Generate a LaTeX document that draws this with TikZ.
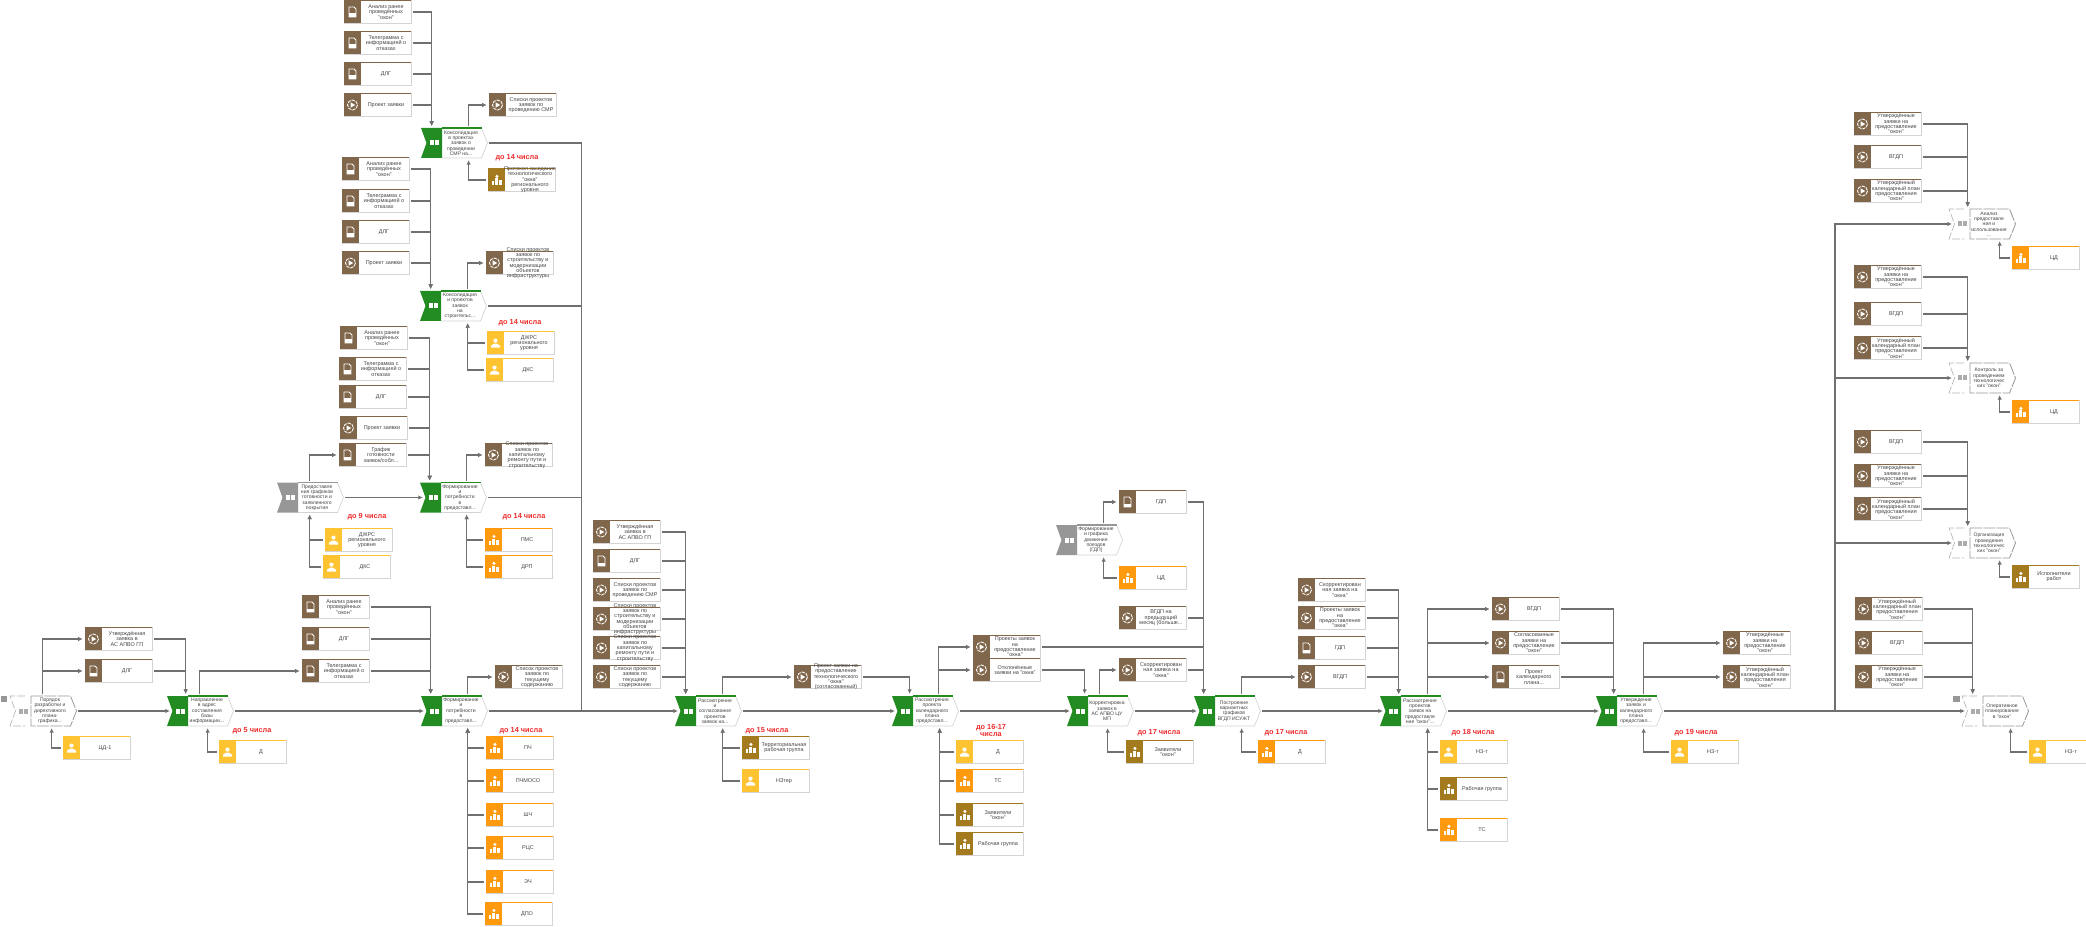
\documentclass[tikz,border=0pt]{standalone}
\usepackage{fontspec}
\setmainfont{Liberation Sans}
\usetikzlibrary{calc,arrows.meta}

\definecolor{brownc}{HTML}{80664A}
\definecolor{goldc}{HTML}{A47A1E}
\definecolor{orangec}{HTML}{FF9A0E}
\definecolor{yellowc}{HTML}{FDC331}
\definecolor{greenc}{HTML}{228B22}
\definecolor{grayc}{HTML}{979797}
\definecolor{wirec}{HTML}{707070}
\definecolor{redc}{HTML}{EE2A2A}
\definecolor{textc}{HTML}{454545}
\definecolor{edgec}{HTML}{D4D4D4}

\tikzset{
  cardbox/.style={rectangle,draw=edgec,line width=.6pt,fill=white,minimum width=50.25pt,minimum height=16.9pt,inner sep=0pt},
  cardtext/.style={inner sep=0pt,align=center,text=textc,font=\fontsize{4.1}{4}\selectfont},
  proctext/.style={inner sep=0pt,align=center,text=textc,font=\fontsize{3.8}{4}\selectfont},
  procbox/.style={rectangle,minimum width=50pt,minimum height=22.5pt,inner sep=0pt},
  deadline/.style={inner sep=0pt,align=center,text=redc,font=\fontsize{5.5}{5.4}\selectfont\bfseries},
  wire/.style={draw=wirec,line width=.85pt,shorten <=1pt},
  link/.style={wire,-{Latex[length=3.4pt,width=3.4pt]},shorten >=1.4pt},
  flow/.style={wire,-{Latex[length=3.4pt,width=3.4pt]},shorten >=-2.4pt},
}

% icons, px coordinates round the centre
\newcommand{\icondoc}[2]{
  \draw[white,line width=.6pt] (#1-3.5,#2-5) -- (#1+1.5,#2-5) -- (#1+3.5,#2-3) -- (#1+3.5,#2+5) -- (#1-3.5,#2+5) -- cycle;
  \fill[white] (#1-3.5,#2+1.5) rectangle (#1+3.5,#2+5);
}
\newcommand{\icondisc}[2]{
  \draw[white,line width=.65pt,dash pattern=on 2.6pt off .7pt] (#1,#2) circle[radius=5];
  \fill[white] (#1-1.8,#2-2.6) -- (#1+2.8,#2) -- (#1-1.8,#2+2.6) -- cycle;
}
\newcommand{\iconman}[2]{
  \fill[white] (#1,#2-2.4) circle[radius=2.1];
  \fill[white] (#1-4.5,#2+4.6) -- (#1-4.5,#2+2.6) -- (#1-1.2,#2+.6) -- (#1+1.2,#2+.6) -- (#1+4.5,#2+2.6) -- (#1+4.5,#2+4.6) -- cycle;
}
\newcommand{\iconorg}[2]{
  \fill[white] (#1-5,#2+1) rectangle (#1-2.2,#2+4.6);
  \fill[white] (#1-1.6,#2-1.5) rectangle (#1+1.4,#2+4.6);
  \fill[white] (#1+2,#2+.2) rectangle (#1+5,#2+4.6);
  \fill[white] (#1+.4,#2-3.6) circle[radius=1.7];
}

% card: name, left x, centre y, colour, icon, text
\newcommand{\cardnode}[6]{
  \node[cardbox] (#1) at (#2+33.5,#3) {};
  \fill[#4] (#2,#3-11.25) rectangle (#2+17,#3+11.25);
  \draw[#4,line width=.9pt] (#2,#3-11.25) -- (#2+67,#3-11.25);
  \csname icon#5\endcsname{#2+8.5}{#3}
  \node[cardtext] (#1txt) at (#2+42,#3) {#6};
}
% step: name, left x, centre y, colour, text
\newcommand{\procnode}[5]{
  \node[procbox] (#1) at (#2+33.25,#3) {};
  \fill[white] (#2+21,#3-15) -- (#2+60.5,#3-15) -- (#2+66.5,#3) -- (#2+60.5,#3+15) -- (#2+21,#3+15) -- cycle;
  \draw[edgec,line width=.5pt] (#2+60.5,#3-15) -- (#2+66.5,#3) -- (#2+60.5,#3+15) -- (#2+21,#3+15);
  \draw[#4,line width=.9pt] (#2+21,#3-15) -- (#2+60.5,#3-15);
  \fill[#4] (#2,#3-15) -- (#2+21,#3-15) -- (#2+21,#3+15) -- (#2,#3+15) -- (#2+5.5,#3) -- cycle;
  \fill[white] (#2+9,#3-2.5) rectangle (#2+13.2,#3+2.5);
  \fill[white] (#2+14.2,#3-2.5) rectangle (#2+18.4,#3+2.5);
  \node[proctext] (#1txt) at (#2+40,#3) {#5};
}
% step not in this process: name, left x, centre y, text
\newcommand{\extnode}[4]{
  \node[procbox] (#1) at (#2+33.25,#3) {};
  \draw[grayc!70,line width=.5pt,dash pattern=on 6pt off 1.5pt] (#2+15,#3-15) -- (#2,#3-15) -- (#2+5.5,#3) -- (#2,#3+15) -- (#2+15,#3+15);
  \draw[grayc,line width=.6pt,dash pattern=on 9pt off 1pt] (#2+21,#3-15) -- (#2+60.5,#3-15) -- (#2+66.5,#3) -- (#2+60.5,#3+15) -- (#2+21,#3+15) -- cycle;
  \fill[grayc!80] (#2+9,#3-2.5) rectangle (#2+13.2,#3+2.5);
  \fill[grayc!80] (#2+14.2,#3-2.5) rectangle (#2+18.4,#3+2.5);
  \node[proctext] (#1txt) at (#2+40,#3) {#4};
}

\begin{document}
\begin{tikzpicture}[x=0.75pt,y=-0.75pt]
  \useasboundingbox (0,0) rectangle (2086,927);

  % Steps of the main line
  \extnode{pStart}{10}{711}{Порядок\\разработки и\\директивного\\плана-\\графика...}
  \procnode{pSend}{167}{711}{greenc}{Направление\\в адрес\\составления\\базы\\информации...}
  \procnode{pNeed}{421}{711}{greenc}{Формирование\\и\\потребности\\в\\предоставл...}
  \procnode{pRev}{675}{711}{greenc}{Рассмотрение\\и\\согласование\\проектов\\заявок на...}
  \procnode{pCal}{892}{711}{greenc}{Рассмотрение\\проекта\\календарного\\плана\\предоставл...}
  \procnode{pCor}{1067}{711}{greenc}{Корректировка\\заявок в\\АС АПВО ЦУ\\МП}
  \procnode{pVar}{1194}{711}{greenc}{Построение\\вариантных\\графиков\\ВГДП ИСУЖТ}
  \procnode{pTech}{1380}{711}{greenc}{Рассмотрение\\проектов\\заявок на\\предоставле\\ние "окон"...}
  \procnode{pAppr}{1596}{711}{greenc}{Утверждение\\заявок и\\календарного\\плана\\предоставл...}
  \extnode{pOper}{1962}{711}{Оперативное\\планирование\\в "окон"}

  % Steps above the main line
  \procnode{pSmr}{421}{143}{greenc}{Консолидация\\в проектах\\заявок о\\проведении\\СМР на...}
  \procnode{pBld}{420}{306}{greenc}{Консолидация\\и проектов\\заявок\\на\\строительс...}
  \procnode{pForm}{420}{497.5}{greenc}{Формирование\\и\\потребности\\в\\предоставл...}
  \procnode{pGiv}{277}{497.5}{grayc}{Предоставле\\ния графиков\\готовности и\\заявленного\\покрытия}
  \procnode{pGdp}{1056}{540}{grayc}{Формирование\\и графика\\движения\\поездов\\(ГДП)}
  \extnode{pAnl}{1949}{224}{Анализ\\предоставле\\ния и\\использования\\...}
  \extnode{pCtl}{1949}{378}{Контроль за\\проведением\\технологичес\\ких "окон"}
  \extnode{pOrg}{1949}{543}{Организация\\проведения\\технологичес\\ких "окон"}

  % Small marks
  \fill[grayc] (1,696) rectangle (7,702);
  \fill[grayc] (1953,696) rectangle (1960,702);

  % Cards round pStart and pSend
  \cardnode{cAsu}{85}{639}{brownc}{disc}{Утверждённая\\заявка в\\АС АПВО ГП}
  \cardnode{cDlg}{85}{671}{brownc}{doc}{ДЛГ}
  \cardnode{cCdo}{63}{748}{yellowc}{man}{ЦД-1}
  \cardnode{cD}{219}{752}{yellowc}{man}{Д}

  % Inputs of pNeed
  \cardnode{cAn}{302}{607}{brownc}{doc}{Анализ ранее\\проведённых\\"окон"}
  \cardnode{cDl}{302}{639}{brownc}{doc}{ДЛГ}
  \cardnode{cTl}{302}{671}{brownc}{doc}{Телеграмма с\\информацией о\\отказах}
  \cardnode{cTek}{495}{677}{brownc}{disc}{Список проектов\\заявок по\\текущему\\содержанию}
  \cardnode{cPch}{486}{748}{orangec}{org}{ПЧ}
  \cardnode{cPm}{486}{781}{orangec}{org}{ПЧМОСО}
  \cardnode{cShch}{486}{815}{orangec}{org}{ШЧ}
  \cardnode{cRcs}{486}{848}{orangec}{org}{РЦС}
  \cardnode{cEch}{486}{882}{orangec}{org}{ЭЧ}
  \cardnode{cDpo}{485}{914}{orangec}{org}{ДПО}

  % Inputs of pSmr
  \cardnode{cAnA}{344}{12}{brownc}{doc}{Анализ ранее\\проведённых\\"окон"}
  \cardnode{cTlA}{344}{43}{brownc}{doc}{Телеграмма с\\информацией о\\отказах}
  \cardnode{cDlA}{344}{74}{brownc}{doc}{ДЛГ}
  \cardnode{cPrA}{344}{105}{brownc}{disc}{Проект заявки}
  \cardnode{cLsA}{489}{105}{brownc}{disc}{Списки проектов\\заявок по\\проведению СМР}
  \cardnode{cProt}{488}{180}{goldc}{org}{Протокол заседания\\технологического\\"окна"\\регионального\\уровня}

  % Inputs of pBld
  \cardnode{cAnB}{342}{169}{brownc}{doc}{Анализ ранее\\проведённых\\"окон"}
  \cardnode{cTlB}{342}{201}{brownc}{doc}{Телеграмма с\\информацией о\\отказах}
  \cardnode{cDlB}{342}{232}{brownc}{doc}{ДЛГ}
  \cardnode{cPrB}{342}{263}{brownc}{disc}{Проект заявки}
  \cardnode{cLsB}{486}{263}{brownc}{disc}{Списки проектов\\заявок по\\строительству и\\модернизации\\объектов\\инфраструктуры}
  \cardnode{cJrB}{487}{343}{yellowc}{man}{ДЖРС\\регионального\\уровня}
  \cardnode{cDkB}{486}{370}{yellowc}{man}{ДКС}

  % Inputs of pForm and pGiv
  \cardnode{cAnC}{340}{338}{brownc}{doc}{Анализ ранее\\проведённых\\"окон"}
  \cardnode{cTlC}{339}{369}{brownc}{doc}{Телеграмма с\\информацией о\\отказах}
  \cardnode{cDlC}{339}{397}{brownc}{doc}{ДЛГ}
  \cardnode{cPrC}{340}{428}{brownc}{disc}{Проект заявки}
  \cardnode{cGr}{339}{455}{brownc}{doc}{График\\готовности\\заявок/собл...}
  \cardnode{cLsC}{485}{455}{brownc}{disc}{Списки проектов\\заявок по\\капитальному\\ремонту пути и\\строительству}
  \cardnode{cJrC}{325}{540}{yellowc}{man}{ДЖРС\\регионального\\уровня}
  \cardnode{cDkC}{323}{567}{yellowc}{man}{ДКС}
  \cardnode{cPms}{485}{540}{orangec}{org}{ПМС}
  \cardnode{cDrp}{485}{567}{orangec}{org}{ДРП}

  % Inputs of pRev
  \cardnode{cAsR}{593}{532}{brownc}{disc}{Утверждённая\\заявка в\\АС АПВО ГП}
  \cardnode{cDlR}{593}{561}{brownc}{doc}{ДЛГ}
  \cardnode{cLs1}{593}{590}{brownc}{disc}{Списки проектов\\заявок по\\проведению СМР}
  \cardnode{cLs2}{593}{619}{brownc}{disc}{Списки проектов\\заявок по\\строительству и\\модернизации\\объектов\\инфраструктуры}
  \cardnode{cLs3}{593}{648}{brownc}{disc}{Списки проектов\\заявок по\\капитальному\\ремонту пути и\\строительству}
  \cardnode{cLs4}{593}{677}{brownc}{disc}{Списки проектов\\заявок по\\текущему\\содержанию}
  \cardnode{cPrj}{794}{677}{brownc}{disc}{Проект заявки на\\предоставление\\технологического\\"окна"\\(согласованный)}
  \cardnode{cTrg}{742}{748}{goldc}{org}{Территориальная\\рабочая группа}
  \cardnode{cNzt}{742}{781}{yellowc}{man}{НЗтер}

  % Round pCal and pCor
  \cardnode{cPz}{973}{647}{brownc}{disc}{Проекты заявок\\на\\предоставление\\"окна"}
  \cardnode{cOtk}{973}{670}{brownc}{disc}{Отклонённые\\заявки на "окна"}
  \cardnode{cDc}{956}{752}{yellowc}{man}{Д}
  \cardnode{cTs}{956}{781}{orangec}{org}{ТС}
  \cardnode{cZv}{956}{815}{goldc}{org}{Заявители\\"окон"}
  \cardnode{cRg}{956}{844}{goldc}{org}{Рабочая группа}
  \cardnode{cSkr}{1119}{670}{brownc}{disc}{Скорректирован\\ная заявка на\\"окна"}
  \cardnode{cZv2}{1126}{752}{goldc}{org}{Заявители\\"окон"}

  % Round pVar and pGdp
  \cardnode{cGdp}{1119}{502}{brownc}{doc}{ГДП}
  \cardnode{cCd}{1119}{578}{orangec}{org}{ЦД}
  \cardnode{cVg}{1119}{618}{brownc}{disc}{ВГДП на\\предыдущий\\месяц (больше...}
  \cardnode{cDv}{1258}{752}{orangec}{org}{Д}

  % Round pTech
  \cardnode{cSk2}{1298}{590}{brownc}{disc}{Скорректирован\\ная заявка на\\"окна"}
  \cardnode{cPz2}{1298}{618}{brownc}{disc}{Проекты заявок\\на\\предоставление\\"окна"}
  \cardnode{cGd2}{1298}{648}{brownc}{doc}{ГДП}
  \cardnode{cVg2}{1298}{677}{brownc}{disc}{ВГДП}
  \cardnode{cNa}{1440}{752}{yellowc}{man}{НЗ-т}
  \cardnode{cRa}{1440}{789}{goldc}{org}{Рабочая группа}
  \cardnode{cTa}{1440}{830}{orangec}{org}{ТС}

  % Round pAppr
  \cardnode{cVg3}{1492}{609}{brownc}{disc}{ВГДП}
  \cardnode{cSg}{1492}{643}{brownc}{disc}{Согласованные\\заявки на\\предоставление\\"окон"}
  \cardnode{cKp}{1492}{677}{brownc}{doc}{Проект\\календарного\\плана...}
  \cardnode{cNb}{1671}{752}{yellowc}{man}{НЗ-т}
  \cardnode{cUz}{1723}{643}{brownc}{disc}{Утверждённые\\заявки на\\предоставление\\"окон"}
  \cardnode{cUk}{1723}{677}{brownc}{disc}{Утверждённый\\календарный план\\предоставления\\"окон"}

  % Round pOper
  \cardnode{cUkO}{1855}{609}{brownc}{disc}{Утверждённый\\календарный план\\предоставления\\"окон"}
  \cardnode{cVgO}{1855}{643}{brownc}{disc}{ВГДП}
  \cardnode{cUzO}{1855}{677}{brownc}{disc}{Утверждённые\\заявки на\\предоставление\\"окон"}
  \cardnode{cNo}{2029}{752}{yellowc}{man}{НЗ-т}

  % Round pAnl, pCtl, pOrg
  \cardnode{cUz1}{1854}{124}{brownc}{disc}{Утверждённые\\заявки на\\предоставление\\"окон"}
  \cardnode{cVg1}{1854}{157}{brownc}{disc}{ВГДП}
  \cardnode{cUk1}{1854}{191}{brownc}{disc}{Утверждённый\\календарный план\\предоставления\\"окон"}
  \cardnode{cCa}{2012}{258}{orangec}{org}{ЦД}
  \cardnode{cUz4}{1854}{277}{brownc}{disc}{Утверждённые\\заявки на\\предоставление\\"окон"}
  \cardnode{cVg4}{1854}{314}{brownc}{disc}{ВГДП}
  \cardnode{cUk4}{1854}{348}{brownc}{disc}{Утверждённый\\календарный план\\предоставления\\"окон"}
  \cardnode{cCb}{2012}{412}{orangec}{org}{ЦД}
  \cardnode{cVg5}{1854}{442}{brownc}{disc}{ВГДП}
  \cardnode{cUz5}{1854}{476}{brownc}{disc}{Утверждённые\\заявки на\\предоставление\\"окон"}
  \cardnode{cUk5}{1854}{509}{brownc}{disc}{Утверждённый\\календарный план\\предоставления\\"окон"}
  \cardnode{cIsp}{2012}{577}{goldc}{org}{Исполнители\\работ}

  % Deadlines
  \node[deadline] (d1) at (252,731) {до 5 числа};
  \node[deadline] (d2) at (521,731) {до 14 числа};
  \node[deadline] (d3) at (517,158) {до 14 числа};
  \node[deadline] (d4) at (520,323) {до 14 числа};
  \node[deadline] (d5) at (367,517) {до 9 числа};
  \node[deadline] (d6) at (524,517) {до 14 числа};
  \node[deadline] (d7) at (767,731) {до 15 числа};
  \node[deadline] (d8) at (991,730.5) {до 16-17\\числа};
  \node[deadline] (d9) at (1159,733) {до 17 числа};
  \node[deadline] (d10) at (1286,733) {до 17 числа};
  \node[deadline] (d11) at (1473,733) {до 18 числа};
  \node[deadline] (d12) at (1696,733) {до 19 числа};

  % Main line
  \foreach \a/\b in {pStart/pSend,pSend/pNeed,pNeed/pRev,pRev/pCal,pCal/pCor,pCor/pVar,pVar/pTech,pTech/pAppr,pAppr/pOper,pGiv/pForm}
    \draw[flow] (\a.east) -- (\b.west);

  % Buses
  \coordinate (busA) at (581.5,711);
  \coordinate (busB) at (1835,711);
  \foreach \p in {pSmr,pBld,pForm}
    \draw[wire] (\p.east) -| (busA);
  \foreach \p in {pAnl,pCtl,pOrg}
    \draw[flow] (busB) |- (\p.west);

  % Cards into a step from above
  \foreach \c in {cAsu,cDlg}
    \draw[link] (\c.east) -| ($(pSend.north west)+(19,0)$);
  \foreach \c in {cAn,cDl,cTl}
    \draw[link] (\c.east) -| ($(pNeed.north west)+(10,0)$);
  \foreach \c in {cAnA,cTlA,cDlA,cPrA}
    \draw[link] (\c.east) -| ($(pSmr.north west)+(11,0)$);
  \foreach \c in {cAnB,cTlB,cDlB,cPrB}
    \draw[link] (\c.east) -| ($(pBld.north west)+(11,0)$);
  \foreach \c in {cAnC,cTlC,cDlC,cPrC,cGr}
    \draw[link] (\c.east) -| ($(pForm.north west)+(10,0)$);
  \foreach \c in {cAsR,cDlR,cLs1,cLs2,cLs3,cLs4}
    \draw[link] (\c.east) -| ($(pRev.north west)+(11,0)$);
  \draw[link] (cPrj.east) -| ($(pCal.north west)+(18,0)$);
  \draw[link] (cOtk.east) -| ($(pCor.north west)+(18,0)$);
  \foreach \c in {cGdp,cVg,cPz,cSkr}
    \draw[link] (\c.east) -| ($(pVar.north west)+(10,0)$);
  \foreach \c in {cSk2,cPz2,cGd2,cVg2}
    \draw[link] (\c.east) -| ($(pTech.north west)+(19,0)$);
  \foreach \c in {cVg3,cSg,cKp}
    \draw[link] (\c.east) -| ($(pAppr.north west)+(18,0)$);
  \foreach \c in {cUkO,cVgO,cUzO}
    \draw[link] (\c.east) -| ($(pOper.north west)+(11,0)$);
  \foreach \c in {cUz1,cVg1,cUk1}
    \draw[link] (\c.east) -| ($(pAnl.north west)+(19,0)$);
  \foreach \c in {cUz4,cVg4,cUk4}
    \draw[link] (\c.east) -| ($(pCtl.north west)+(19,0)$);
  \foreach \c in {cVg5,cUz5,cUk5}
    \draw[link] (\c.east) -| ($(pOrg.north west)+(19,0)$);

  % Cards out of a step
  \foreach \c in {cAsu,cDlg}
    \draw[link] ($(pStart.north west)+(33,0)$) |- (\c.west);
  \draw[link] ($(pSend.north west)+(33,0)$) |- (cTl.west);
  \draw[link] ($(pNeed.north west)+(47,0)$) |- (cTek.west);
  \draw[link] ($(pSmr.north west)+(48,0)$) |- (cLsA.west);
  \draw[link] ($(pBld.north west)+(48,0)$) |- (cLsB.west);
  \draw[link] ($(pForm.north west)+(47,0)$) |- (cLsC.west);
  \draw[link] ($(pGiv.north west)+(33,0)$) |- (cGr.west);
  \draw[link] ($(pRev.north west)+(48,0)$) |- (cPrj.west);
  \foreach \c in {cPz,cOtk}
    \draw[link] ($(pCal.north west)+(47,0)$) |- (\c.west);
  \draw[link] ($(pCor.north west)+(33,0)$) |- (cSkr.west);
  \draw[link] ($(pGdp.north west)+(48,0)$) |- (cGdp.west);
  \draw[link] ($(pVar.north west)+(48,0)$) |- (cVg2.west);
  \foreach \c in {cVg3,cSg,cKp}
    \draw[link] ($(pTech.north west)+(48,0)$) |- (\c.west);
  \foreach \c in {cUz,cUk}
    \draw[link] ($(pAppr.north west)+(48,0)$) |- (\c.west);

  % Cards into a step from below
  \draw[link] (cCdo.west) -| ($(pStart.south west)+(42,0)$);
  \draw[link] (cD.west) -| ($(pSend.south west)+(41,0)$);
  \foreach \c in {cPch,cPm,cShch,cRcs,cEch,cDpo}
    \draw[link] (\c.west) -| ($(pNeed.south west)+(47,0)$);
  \draw[link] (cProt.west) -| ($(pSmr.south west)+(48,0)$);
  \foreach \c in {cJrB,cDkB}
    \draw[link] (\c.west) -| ($(pBld.south west)+(48,0)$);
  \foreach \c in {cPms,cDrp}
    \draw[link] (\c.west) -| ($(pForm.south west)+(47,0)$);
  \foreach \c in {cJrC,cDkC}
    \draw[link] (\c.west) -| ($(pGiv.south west)+(33,0)$);
  \foreach \c in {cTrg,cNzt}
    \draw[link] (\c.west) -| ($(pRev.south west)+(48,0)$);
  \foreach \c in {cDc,cTs,cZv,cRg}
    \draw[link] (\c.west) -| ($(pCal.south west)+(48,0)$);
  \draw[link] (cZv2.west) -| ($(pCor.south west)+(41,0)$);
  \draw[link] (cCd.west) -| ($(pGdp.south west)+(48,0)$);
  \draw[link] (cDv.west) -| ($(pVar.south west)+(48,0)$);
  \foreach \c in {cNa,cRa,cTa}
    \draw[link] (\c.west) -| ($(pTech.south west)+(48,0)$);
  \draw[link] (cNb.west) -| ($(pAppr.south west)+(48,0)$);
  \draw[link] (cNo.west) -| ($(pOper.south west)+(49,0)$);
  \draw[link] (cCa.west) -| ($(pAnl.south west)+(51,0)$);
  \draw[link] (cCb.west) -| ($(pCtl.south west)+(51,0)$);
  \draw[link] (cIsp.west) -| ($(pOrg.south west)+(51,0)$);
\end{tikzpicture}
\end{document}
